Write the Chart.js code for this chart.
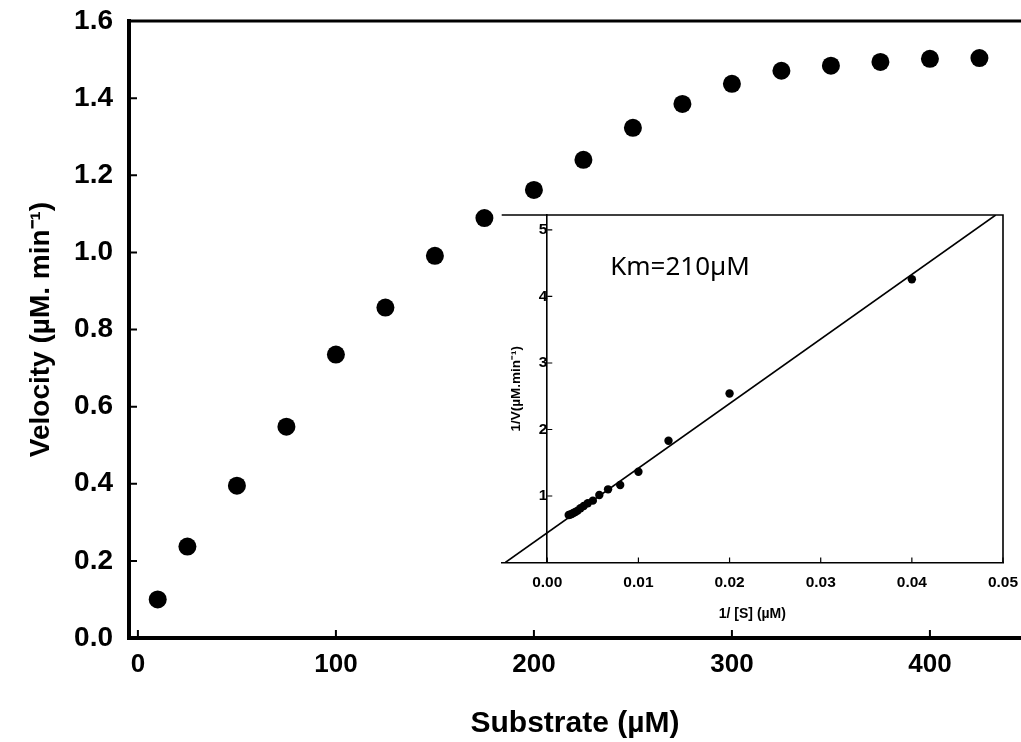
<!DOCTYPE html>
<html><head><meta charset="utf-8">
<script src="https://cdn.jsdelivr.net/npm/chart.js@4.4.1/dist/chart.umd.min.js"></script>
<style>
html,body{margin:0;padding:0;background:#fff;overflow:hidden;}
#wrap{position:relative;width:1021px;height:742px;background:#fff;}
#main{position:absolute;left:0;top:0;}
#inset{position:absolute;left:470px;top:200px;}
</style></head><body>
<div id="wrap"><canvas id="main" width="1021" height="742"></canvas><canvas id="inset" width="551" height="430"></canvas></div>
<script>
// ---- main Michaelis-Menten data ----
const substrate = [10, 25, 50, 75, 100, 125, 150, 175, 200, 225, 250, 275, 300, 325, 350, 375, 400, 425];
const velocity  = [0.10, 0.237, 0.395, 0.548, 0.735, 0.857, 0.991, 1.089, 1.162, 1.24, 1.323, 1.385, 1.437, 1.471, 1.484, 1.494, 1.502, 1.504];
const mainXTicks = [0, 100, 200, 300, 400];
const mainYTicks = [0, 0.2, 0.4, 0.6, 0.8, 1.0, 1.2, 1.4, 1.6];

// ---- inset Lineweaver-Burk data ----
const invS = [0.04, 0.02, 0.0133, 0.01, 0.008, 0.00667, 0.00571, 0.005, 0.00444, 0.004, 0.00364, 0.00333, 0.00308, 0.00286, 0.00267, 0.0025, 0.00235];
const invV = [4.26, 2.54, 1.83, 1.365, 1.165, 1.10, 1.015, 0.93, 0.89, 0.85, 0.815, 0.78, 0.76, 0.745, 0.73, 0.72, 0.715];
const fitX = [-0.0046, 0.0492];
const fitY = [0, 5.225];
const insetXTicks = [0, 0.01, 0.02, 0.03, 0.04, 0.05];
const insetYTicks = [1, 2, 3, 4, 5];
const kmLabel = 'Km=210µM';
const kmAnchor = [0.0069, 4.44];

function inwardTicks(chart, xLen, yLen, lw, axisXValue) {
  const {ctx, chartArea, scales} = chart;
  const x = scales.x, y = scales.y;
  const ax = axisXValue === null ? chartArea.left : x.getPixelForValue(axisXValue);
  ctx.save();
  ctx.strokeStyle = '#000';
  ctx.lineWidth = lw;
  ctx.beginPath();
  x.ticks.forEach(t => { const px = x.getPixelForValue(t.value); ctx.moveTo(px, chartArea.bottom); ctx.lineTo(px, chartArea.bottom - xLen); });
  y.ticks.forEach(t => { const py = y.getPixelForValue(t.value); ctx.moveTo(ax, py); ctx.lineTo(ax + yLen, py); });
  ctx.stroke();
  ctx.restore();
}

const boldFont = (size) => ({family: "'Liberation Sans', Arial, sans-serif", weight: 'bold', size: size});
const noPad = s => { s.paddingLeft = 0; s.paddingRight = 0; s.paddingTop = 0; s.paddingBottom = 0; };

new Chart(document.getElementById('main'), {
  type: 'scatter',
  data: {datasets: [{
    data: substrate.map((s, i) => ({x: s, y: velocity[i]})),
    backgroundColor: '#000', borderColor: '#000', pointRadius: 9, pointHoverRadius: 9, borderWidth: 0
  }]},
  options: {
    responsive: false, animation: false, devicePixelRatio: 1,
    layout: {autoPadding: false, padding: {top: 21, right: 0, left: 0, bottom: 0}},
    plugins: {legend: {display: false}, tooltip: {enabled: false}},
    scales: {
      x: {
        type: 'linear', min: -4.5, max: 446,
        afterBuildTicks: s => { s.ticks = mainXTicks.map(v => ({value: v})); },
        afterFit: s => { s.height = 104; noPad(s); },
        grid: {display: false, drawTicks: false},
        border: {display: true, color: '#000', width: 4},
        ticks: {padding: 11, color: '#000', font: boldFont(26), maxRotation: 0, autoSkip: false, callback: v => String(v)},
        title: {display: true, text: 'Substrate (µM)', color: '#000', font: boldFont(30), padding: {top: 0, bottom: 0}}
      },
      y: {
        type: 'linear', min: 0, max: 1.6,
        afterBuildTicks: s => { s.ticks = mainYTicks.map(v => ({value: v})); },
        afterFit: s => { s.width = 129; noPad(s); },
        grid: {display: false, drawTicks: false},
        border: {display: true, color: '#000', width: 4},
        ticks: {padding: 16, color: '#000', font: boldFont(28), autoSkip: false, callback: v => Number(v).toFixed(1)},
        title: {display: true, text: 'Velocity (µM. min⁻¹)', color: '#000', font: boldFont(28), padding: {top: 24, bottom: 24}}
      }
    }
  },
  plugins: [{
    id: 'mainFrame',
    afterDraw(chart) {
      const {ctx, chartArea} = chart;
      ctx.save();
      ctx.strokeStyle = '#000';
      ctx.lineWidth = 3;
      ctx.beginPath();
      ctx.moveTo(chartArea.left - 2, chartArea.top);
      ctx.lineTo(chartArea.right, chartArea.top);
      ctx.stroke();
      ctx.restore();
      inwardTicks(chart, 8, 8, 2, null);
    }
  }]
});

new Chart(document.getElementById('inset'), {
  type: 'scatter',
  data: {datasets: [
    {type: 'line', data: fitX.map((v, i) => ({x: v, y: fitY[i]})), borderColor: '#000', borderWidth: 1.6, pointRadius: 0, fill: false, yAxisID: 'y', xAxisID: 'x'},
    {data: invS.map((v, i) => ({x: v, y: invV[i]})), backgroundColor: '#000', borderColor: '#000', pointRadius: 4.2, borderWidth: 0, yAxisID: 'y', xAxisID: 'x'}
  ]},
  options: {
    responsive: false, animation: false, devicePixelRatio: 1,
    layout: {autoPadding: false, padding: {top: 15, right: 18, left: 0, bottom: 0}},
    plugins: {legend: {display: false}, tooltip: {enabled: false}},
    scales: {
      x: {
        type: 'linear', position: 'bottom', min: -0.005, max: 0.05,
        afterBuildTicks: s => { s.ticks = insetXTicks.map(v => ({value: v})); },
        afterFit: s => { s.height = 67.5; noPad(s); },
        grid: {display: false, drawTicks: false},
        border: {display: true, color: '#000', width: 1.6},
        ticks: {padding: 11, color: '#000', font: boldFont(15.5), maxRotation: 0, autoSkip: false, callback: v => Number(v).toFixed(2)},
        title: {display: true, text: '1/ [S] (µM)', color: '#000', font: boldFont(14), padding: {top: 7, bottom: 7}}
      },
      y: {
        type: 'linear', position: {x: 0}, min: 0, max: 5.225,
        afterBuildTicks: s => { s.ticks = insetYTicks.map(v => ({value: v})); },
        afterFit: s => { s.width = 0; noPad(s); },
        grid: {display: false, drawTicks: false},
        border: {display: true, color: '#000', width: 1.6},
        ticks: {padding: 10, color: '#000', font: boldFont(15.5), autoSkip: false, callback: v => String(v)},
        title: {display: false}
      },
      yt: {
        type: 'linear', position: 'left', display: true,
        afterFit: s => { s.width = 31.7; noPad(s); },
        grid: {display: false, drawTicks: false},
        border: {display: false},
        ticks: {display: false},
        title: {display: true, text: '1/V(µM.min⁻¹)', color: '#000', font: boldFont(13.5), padding: {top: 38, bottom: 38}}
      }
    }
  },
  plugins: [{
    id: 'insetBg',
    beforeDraw(chart) {
      const {ctx, chartArea} = chart;
      ctx.save();
      ctx.fillStyle = '#fff';
      ctx.fillRect(chartArea.left, chartArea.top, chartArea.right - chartArea.left, chartArea.bottom - chartArea.top);
      ctx.restore();
    },
    afterDraw(chart) {
      const {ctx, chartArea, scales} = chart;
      ctx.save();
      ctx.strokeStyle = '#000';
      ctx.lineWidth = 1.6;
      ctx.beginPath();
      ctx.moveTo(chartArea.left, chartArea.top);
      ctx.lineTo(chartArea.right, chartArea.top);
      ctx.lineTo(chartArea.right, chartArea.bottom);
      ctx.stroke();
      ctx.fillStyle = '#000';
      ctx.font = "26px 'Noto Sans', 'Open Sans', sans-serif";
      ctx.textAlign = 'left';
      ctx.textBaseline = 'middle';
      ctx.fillText(kmLabel, scales.x.getPixelForValue(kmAnchor[0]), scales.y.getPixelForValue(kmAnchor[1]));
      ctx.restore();
      inwardTicks(chart, 5, 5, 1.2, 0);
    }
  }]
});
</script>
</body></html>
